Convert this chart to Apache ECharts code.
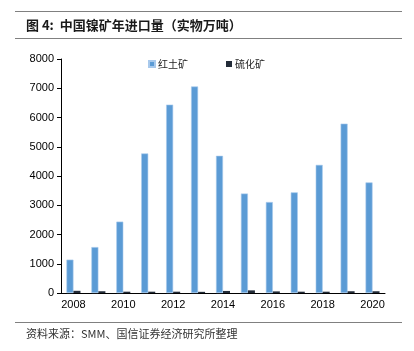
<!DOCTYPE html>
<html>
<head>
<meta charset="utf-8">
<script src="https://cdn.jsdelivr.net/npm/echarts@6/dist/echarts.min.js"></script>
<style>html,body{margin:0;padding:0;background:#fff;}#c{width:414px;height:351px;}</style>
</head>
<body>
<div id="c"></div>
<script>
const years = ['2008','2009','2010','2011','2012','2013','2014','2015','2016','2017','2018','2019','2020'];
const laterite = [1140, 1570, 2440, 4770, 6440, 7060, 4690, 3400, 3110, 3440, 4380, 5790, 3780];
const sulfide = [75, 60, 45, 45, 45, 40, 70, 90, 55, 45, 45, 60, 60];
const yTicks = [0, 1000, 2000, 3000, 4000, 5000, 6000, 7000, 8000];

const chart = echarts.init(document.getElementById('c'), null, {renderer: 'canvas'});
const cjk = '"Liberation Sans", "Noto Sans CJK SC", sans-serif';
chart.setOption({
  animation: false,
  backgroundColor: '#fff',
  textStyle: {fontFamily: cjk},
  graphic: [
    {type: 'line', shape: {x1: 15, y1: 11.5, x2: 402, y2: 11.5}, style: {stroke: '#808080', lineWidth: 1}},
    {type: 'line', shape: {x1: 15, y1: 38.5, x2: 402, y2: 38.5}, style: {stroke: '#808080', lineWidth: 1}},
    {type: 'text', left: 26, top: 19, style: {text: '图 4:  中国镍矿年进口量（实物万吨）', font: 'bold 13px "Noto Sans CJK SC", sans-serif', fill: '#1a1a1a'}},
    {type: 'line', shape: {x1: 15, y1: 322.5, x2: 402, y2: 322.5}, style: {stroke: '#808080', lineWidth: 1}},
    {type: 'text', left: 26, top: 328, style: {text: '资料来源：SMM、国信证券经济研究所整理', font: '11px "Noto Sans CJK SC", sans-serif', fill: '#333'}}
  ],
  legend: {
    left: 143, top: 54,
    itemWidth: 6, itemHeight: 6, itemGap: 38,
    icon: 'rect',
    textStyle: {fontSize: 10, color: '#222', fontFamily: '"Noto Sans CJK SC", sans-serif', padding: [0,0,0,-2]},
    data: ['红土矿', '硫化矿']
  },
  grid: {left: 61, right: 29, top: 59, bottom: 58, containLabel: false},
  xAxis: {
    type: 'category',
    data: years,
    axisLine: {show: true, lineStyle: {color: '#000', width: 1}},
    axisTick: {show: false},
    axisLabel: {interval: 1, fontSize: 11, color: '#000', margin: 6}
  },
  yAxis: {
    type: 'value',
    min: yTicks[0], max: yTicks[yTicks.length - 1], interval: 1000,
    axisLine: {show: true, lineStyle: {color: '#000', width: 1}},
    axisTick: {show: true, length: 4, lineStyle: {color: '#000'}},
    splitLine: {show: false},
    axisLabel: {fontSize: 11, color: '#000', margin: 7, formatter: function (v) { return String(v); }}
  },
  series: [
    {name: '红土矿', type: 'bar', data: laterite, barWidth: 7, barGap: '0%',
     itemStyle: {color: '#5b9bd5', borderColor: '#a8c9ec', borderWidth: 0.6}},
    {name: '硫化矿', type: 'bar', data: sulfide, barWidth: 7,
     itemStyle: {color: '#222b38'}}
  ]
});
</script>
</body>
</html>
